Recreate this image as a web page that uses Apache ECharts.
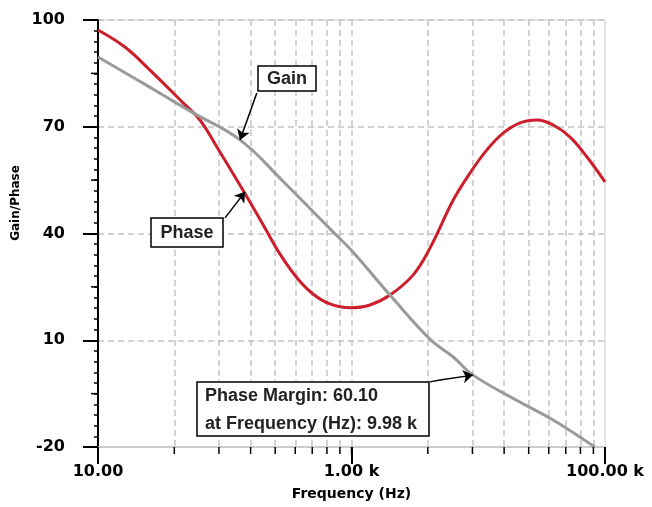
<!DOCTYPE html>
<html>
<head>
<meta charset="utf-8">
<script src="https://cdn.jsdelivr.net/npm/echarts@6/dist/echarts.min.js"></script>
<style>
html,body{margin:0;padding:0;background:#fff;}
#chart{width:652px;height:507px;}
</style>
</head>
<body>
<div id="chart"></div>
<script>
// ---- data ----
const gainFreq = [10, 23.5, 55, 132, 288, 677, 1009, 2013, 4160, 6350, 9100, 21400, 39000, 83000];
const gainValues = [89.6, 81.9, 74.1, 66.3, 54.7, 41.3, 35.1, 22.7, 10.3, 5.3, 0.2, -7.4, -12.4, -20.0];

const phaseFreq = [10, 16.3, 25.7, 46.9, 63.7, 86.7, 139, 208, 273, 372, 497, 676, 972, 1400, 2013, 3055, 4160, 6350, 8610, 11700, 15700, 21400, 29100, 39000, 53000, 72100, 100000];
const phaseValues = [97.2, 92.4, 85.9, 76.7, 71.9, 64.3, 52.2, 41.5, 34.2, 27.5, 23.0, 20.2, 19.1, 19.9, 22.7, 28.3, 35.9, 49.4, 57.0, 63.5, 68.2, 71.1, 71.9, 70.5, 67.1, 61.5, 54.5];

const xMajorTicks = [10, 1000, 100000];
const xTickLabels = ['10.00', '1.00 k', '100.00 k'];
const xMinorTicks = [40, 90, 160, 250, 360, 490, 640, 810, 1000, 4000, 9000, 16000, 25000, 36000, 49000, 64000, 81000];
const yMidTicks = [85, 55, 25, -5];

const annotationGain = 'Gain';
const annotationPhase = 'Phase';
const annotationPM = ['Phase Margin: 60.10', 'at Frequency (Hz): 9.98 k'];

const X_MIN = 10, X_MAX = 100000, Y_MIN = -20, Y_MAX = 100;
const GRID = {left: 98, right: 47, top: 20, bottom: 60};
const W = 652, H = 507;

function zip(a, b) { return a.map((v, i) => [v, b[i]]); }

const chart = echarts.init(document.getElementById('chart'), null, {renderer: 'canvas'});
const tickFont = {fontFamily: 'DejaVu Sans', fontWeight: 'bold', fontSize: 16, color: '#000'};
const gridLine = {show: true, lineStyle: {color: '#c4c4c4', width: 1.5, type: [6, 4]}};
const annFont = 'bold 18px "Liberation Sans", Arial, sans-serif';

chart.setOption({
  animation: false,
  backgroundColor: '#fff',
  grid: Object.assign({show: true, borderColor: '#cccccc', borderWidth: 1}, GRID),
  xAxis: [
    {
      type: 'log', logBase: 10, min: X_MIN, max: X_MAX, position: 'bottom',
      axisLine: {show: true, onZero: false, lineStyle: {color: '#c8c8c8', width: 1.5}},
      axisTick: {show: true, customValues: xMajorTicks, length: 17, lineStyle: {color: '#000', width: 2}},
      axisLabel: Object.assign({customValues: xMajorTicks, margin: 17,
        formatter: v => { const i = xMajorTicks.findIndex(t => Math.abs(t - v) / t < 1e-6); return i >= 0 ? xTickLabels[i] : ''; }}, tickFont),
      splitLine: {show: false},
      minorTick: {show: false},
      name: 'Frequency (Hz)', nameLocation: 'middle', nameGap: 40,
      nameTextStyle: {fontFamily: 'DejaVu Sans', fontWeight: 'bold', fontSize: 14, color: '#000'}
    },
    {
      type: 'log', logBase: 10, min: X_MIN, max: X_MAX, position: 'bottom',
      axisLine: {show: false, onZero: false},
      axisTick: {show: false, customValues: xMinorTicks},
      axisLabel: {show: false},
      splitLine: gridLine
    }
  ],
  yAxis: [
    {
      type: 'value', min: Y_MIN, max: Y_MAX, interval: 30, position: 'left',
      axisLine: {show: true, onZero: false, lineStyle: {color: '#000', width: 2}},
      axisTick: {show: true, length: 15, lineStyle: {color: '#000', width: 2}},
      minorTick: {show: true, splitNumber: 10, length: 4, lineStyle: {color: '#000', width: 1.5}},
      axisLabel: Object.assign({margin: 33}, tickFont),
      splitLine: gridLine
    }
  ],
  series: [
    {
      name: 'Phase', type: 'line', xAxisIndex: 0, yAxisIndex: 0, data: zip(phaseFreq, phaseValues),
      smooth: 0.4, showSymbol: false, symbol: 'none',
      lineStyle: {color: '#cc1f2b', width: 3}, z: 3,
      markLine: {
        silent: true, symbol: ['none', 'arrow'], symbolSize: 10,
        label: {show: false},
        lineStyle: {color: '#000', width: 1.5, type: 'solid'},
        data: [[{coord: [100.5, 44.4]}, {coord: [144.6, 51.7]}]]
      }
    },
    {
      name: 'Gain', type: 'line', xAxisIndex: 0, yAxisIndex: 0, data: zip(gainFreq, gainValues),
      smooth: 0.4, showSymbol: false, symbol: 'none',
      lineStyle: {color: '#9a9a9a', width: 3}, z: 4,
      markLine: {
        silent: true, symbol: ['none', 'arrow'], symbolSize: 10,
        label: {show: false},
        lineStyle: {color: '#000', width: 1.5, type: 'solid'},
        data: [
          [{coord: [179, 79.5]}, {coord: [132, 66.3]}],
          [{coord: [4160, -1.7], symbol: 'none'}, {coord: [4990, -1.2], symbol: 'none'}],
          [{coord: [4990, -1.2], symbol: 'none'}, {coord: [9100, 0.2]}]
        ]
      }
    }
  ]
});

// ---- minor tick marks, positioned through the chart's own coordinate conversion ----
function libPixel(x, y) {
  let p = null;
  try { p = chart.convertToPixel({gridIndex: 0}, [x, y]); } catch (e) { p = null; }
  if (!p || !isFinite(p[0]) || !isFinite(p[1])) {
    try { p = chart.convertToPixel({seriesIndex: 1}, [x, y]); } catch (e) { p = null; }
  }
  return p;
}
// same log/linear mapping the axes use, as a fallback if conversion is not ready yet
function fallbackPixel(x, y) {
  const w = W - GRID.left - GRID.right, h = H - GRID.top - GRID.bottom;
  const lx = (Math.log10(x) - Math.log10(X_MIN)) / (Math.log10(X_MAX) - Math.log10(X_MIN));
  const ly = (y - Y_MIN) / (Y_MAX - Y_MIN);
  return [GRID.left + lx * w, GRID.top + (1 - ly) * h];
}
const a = libPixel(X_MIN, Y_MIN), b = libPixel(X_MAX, Y_MAX);
const libOk = a && b && isFinite(a[0]) && isFinite(b[0]) && isFinite(a[1]) && isFinite(b[1]) &&
  b[0] - a[0] > 100 && a[1] - b[1] > 100 && a[0] >= 0 && b[0] <= W && b[1] >= 0 && a[1] <= H;
const toPixel = libOk ? libPixel : fallbackPixel;

const tickGraphics = [];
xMinorTicks.forEach(v => {
  const p = toPixel(v, Y_MIN);
  tickGraphics.push({type: 'rect', z: 50, silent: true,
    shape: {x: p[0] - 0.75, y: p[1], width: 1.5, height: 7},
    style: {fill: '#000'}});
});
yMidTicks.forEach(v => {
  const p = toPixel(X_MIN, v);
  tickGraphics.push({type: 'rect', z: 50, silent: true,
    shape: {x: p[0] - 7, y: p[1] - 0.75, width: 7, height: 1.5},
    style: {fill: '#000'}});
});

const annotationGraphics = [
  {type: 'text', x: 16, y: 203, rotation: Math.PI / 2,
    style: {text: 'Gain/Phase', font: 'bold 12px "DejaVu Sans"', fill: '#000', align: 'center', verticalAlign: 'middle'}},
  {type: 'rect', shape: {x: 258, y: 66, width: 58, height: 25}, style: {fill: '#fff', stroke: '#000', lineWidth: 1.5}, z: 100},
  {type: 'text', x: 287, y: 79, style: {text: annotationGain, font: annFont, fill: '#222', align: 'center', verticalAlign: 'middle'}, z: 101},
  {type: 'rect', shape: {x: 151, y: 218, width: 72, height: 29}, style: {fill: '#fff', stroke: '#000', lineWidth: 1.5}, z: 100},
  {type: 'text', x: 187, y: 233, style: {text: annotationPhase, font: annFont, fill: '#222', align: 'center', verticalAlign: 'middle'}, z: 101},
  {type: 'rect', shape: {x: 197, y: 382, width: 232, height: 54}, style: {fill: '#fff', stroke: '#000', lineWidth: 1.5}, z: 100},
  {type: 'text', x: 205, y: 396, style: {text: annotationPM[0], font: annFont, fill: '#222', align: 'left', verticalAlign: 'middle'}, z: 101},
  {type: 'text', x: 205, y: 424, style: {text: annotationPM[1], font: annFont, fill: '#222', align: 'left', verticalAlign: 'middle'}, z: 101}
];

chart.setOption({graphic: annotationGraphics.concat(tickGraphics)});
</script>
</body>
</html>
